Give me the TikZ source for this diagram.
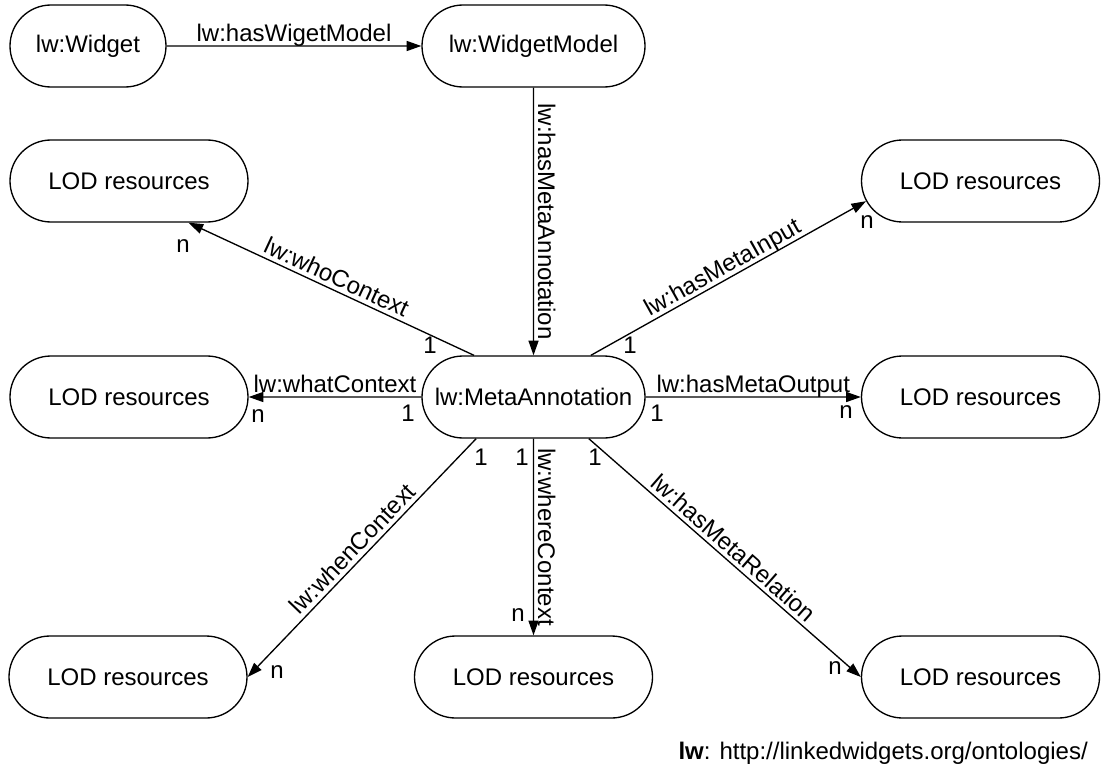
\documentclass[tikz,border=0pt]{standalone}
\usepackage{fontspec}
\setmainfont{Liberation Sans}
\usetikzlibrary{shapes.misc,arrows.meta}
\begin{document}
\begin{tikzpicture}[x=0.75pt,y=-0.75pt,
  every node/.style={font=\fontsize{18}{21.6}\selectfont},
  term/.style={draw, line width=1pt, rounded rectangle, minimum height=61.5pt, inner sep=0pt},
  lod/.style={term, minimum width=178.5pt},
  rel/.style={line width=1pt, -{Triangle[length=11pt,width=7.5pt]}},
  prop/.style={inner sep=1pt, text height=0.72em, text depth=0.2em},
  card/.style={inner sep=0pt}
]
\useasboundingbox (0,0) rectangle (1102,767);

% classes
\node[term, minimum width=117pt]    (widget) at (88,46)    {lw:Widget};
\node[term, minimum width=167.25pt] (model)  at (533.5,46) {lw:WidgetModel};
\node[term, minimum width=167.25pt] (meta)   at (533.5,397) {lw:MetaAnnotation};

% linked open data targets
\node[lod] (who)      at (129,181)   {LOD resources};
\node[lod] (input)    at (980.5,181) {LOD resources};
\node[lod] (what)     at (129,397)   {LOD resources};
\node[lod] (output)   at (980.5,397) {LOD resources};
\node[lod] (when)     at (128,677)   {LOD resources};
\node[lod] (where)    at (533.5,677) {LOD resources};
\node[lod] (relation) at (980.5,677) {LOD resources};

% properties
\draw[rel] (widget) -- node[prop, above] (pwm) {lw:hasWigetModel} (model);
\draw[rel] (model) -- node[prop, rotate=-90, anchor=south] (pma) {lw:hasMetaAnnotation} (meta);
\draw[rel] (meta.145) -- node[prop, sloped, above] (pwho) {lw:whoContext} (who.-35);
\draw[rel] (meta.36.5) -- node[prop, sloped, above] (pin) {lw:hasMetaInput} (input.190);
\draw[rel] (meta) -- node[prop, above] (pwhat) {lw:whatContext} (what);
\draw[rel] (meta) -- node[prop, above] (pout) {lw:hasMetaOutput} (output);
\draw[rel] (meta.216) -- node[prop, sloped, above] (pwhen) {lw:whenContext} (when.east);
\draw[rel] (meta) -- node[prop, rotate=-90, anchor=south] (pwhere) {lw:whereContext} (where);
\draw[rel] (meta.-37) -- node[prop, sloped, above] (prel) {lw:hasMetaRelation} (relation.west);

% cardinalities
\node[card] (whoA)  at (430,345) {1};
\node[card] (whoB)  at (183,246) {n};
\node[card] (inA)   at (630,345) {1};
\node[card] (inB)   at (867,222) {n};
\node[card] (whatA) at (408,413) {1};
\node[card] (whatB) at (258,416) {n};
\node[card] (outA)  at (657,413) {1};
\node[card] (outB)  at (846,412) {n};
\node[card] (whenA) at (481,457) {1};
\node[card] (whenB) at (277,672) {n};
\node[card] (wherA) at (522,457) {1};
\node[card] (wherB) at (518,615) {n};
\node[card] (relA)  at (595,457) {1};
\node[card] (relB)  at (835,668) {n};

% namespace
\node[anchor=base east, inner sep=0pt] (ns) at (1088,759)
  {\textbf{lw}: http://linkedwidgets.org/ontologies/};
\end{tikzpicture}
\end{document}
